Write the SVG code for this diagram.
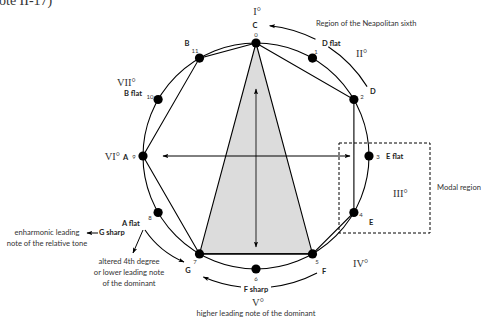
<svg xmlns="http://www.w3.org/2000/svg" width="481" height="320" viewBox="0 0 481 320">
<style>
.ln{fill:none;stroke:#000;stroke-width:1.1}
.nd{fill:#000}
.num{font-family:Lato,"Open Sans",sans-serif;font-size:6px;fill:#333;text-anchor:middle}
.let{font-family:Lato,"Open Sans",sans-serif;font-size:7.5px;font-weight:bold;fill:#222}
.txt{font-family:Lato,"Open Sans",sans-serif;font-size:7.6px;fill:#333}
.rom{font-family:"Liberation Serif",serif;font-size:10.5px;fill:#333}
</style>
<defs>
<marker id="ah" viewBox="0 0 10 10" refX="9" refY="5" markerWidth="6" markerHeight="6" orient="auto-start-reverse" markerUnits="userSpaceOnUse">
<path d="M0,1.5 L10,5 L0,8.5 L2,5 Z" fill="#000"/>
</marker>
</defs>
<text x="-8" y="5" style="font-family:'Liberation Serif',serif;font-size:14px;fill:#333">note II-17)</text>
<g id="connectors">
<polygon points="256,43 312.5,253.9 199.5,253.9" fill="#dcdcdc" stroke="#000" stroke-width="1.1"/>
<circle cx="256" cy="156" r="113" class="ln"/>
<polyline class="ln" points="256,43 353.9,99.5 353.9,212.5 312.5,253.9 199.5,253.9 143,156 199.5,58.1 256,43"/>
<line x1="256" y1="89" x2="256" y2="247" stroke="#444" stroke-width="1.2" marker-start="url(#ah)" marker-end="url(#ah)"/>
<line x1="163" y1="156" x2="350" y2="156" stroke="#000" stroke-width="1" marker-start="url(#ah)" marker-end="url(#ah)"/>
<rect x="339" y="143" width="91" height="90" fill="none" stroke="#000" stroke-width="1" stroke-dasharray="3,2"/>
<path class="ln" d="M315.5,39.3 A131,131 0 0 0 269.7,25.7" marker-end="url(#ah)"/>
<path class="ln" d="M328.3,46.8 A131,131 0 0 1 367.1,86.6"/>
<path class="ln" d="M317,273 A132,132 0 0 1 271,287"/>
<path class="ln" d="M241,287 A132,132 0 0 1 203.4,277" marker-end="url(#ah)"/>
<line x1="98" y1="233" x2="87" y2="233" stroke="#000" stroke-width="1" marker-end="url(#ah)"/>
<line x1="143" y1="230" x2="133" y2="253" stroke="#000" stroke-width="1" marker-end="url(#ah)"/>
<path class="ln" d="M145,230 Q160,252 184,262" marker-end="url(#ah)"/>
</g>
<g id="n0"><circle class="nd" cx="256" cy="43" r="4.6"/><text class="num" x="256" y="37">0</text><text class="let" x="255" y="28" text-anchor="middle">C</text><text class="rom" x="257" y="15" text-anchor="middle">I°</text></g>
<g id="n1"><circle class="nd" cx="312.5" cy="58.1" r="4.6"/><text class="num" x="316" y="54">1</text><text class="let" x="322" y="46">D flat</text><text class="rom" x="356" y="57">II°</text></g>
<g id="n2"><circle class="nd" cx="353.9" cy="99.5" r="4.6"/><text class="num" x="362" y="99">2</text><text class="let" x="370" y="94">D</text></g>
<g id="n3"><circle class="nd" cx="369" cy="156" r="4.6"/><text class="num" x="378" y="159">3</text><text class="let" x="386" y="159">E flat</text></g>
<g id="n4"><circle class="nd" cx="353.9" cy="212.5" r="4.6"/><text class="num" x="361" y="217">4</text><text class="let" x="369" y="225">E</text><text class="rom" x="393" y="197">III°</text></g>
<g id="n5"><circle class="nd" cx="312.5" cy="253.9" r="4.6"/><text class="num" x="317" y="264">5</text><text class="let" x="322" y="274">F</text><text class="rom" x="353" y="267">IV°</text></g>
<g id="n6"><circle class="nd" cx="256" cy="269" r="4.6"/><text class="num" x="256" y="281">6</text><text class="let" x="256" y="292" text-anchor="middle">F sharp</text><text class="rom" x="258" y="306" text-anchor="middle">V°</text><text class="txt" x="256" y="316" text-anchor="middle">higher leading note of the dominant</text></g>
<g id="n7"><circle class="nd" cx="199.5" cy="253.9" r="4.6"/><text class="num" x="195" y="264">7</text><text class="let" x="188" y="273" text-anchor="middle">G</text></g>
<g id="n8"><circle class="nd" cx="158.1" cy="212.5" r="4.6"/><text class="num" x="150" y="220">8</text><text class="let" x="122" y="226">A flat</text><text class="let" x="99" y="235">G sharp</text>
<text class="txt" x="47" y="235" text-anchor="middle">enharmonic leading</text><text class="txt" x="47" y="246" text-anchor="middle">note of the relative tone</text>
<text class="txt" x="129" y="264" text-anchor="middle">altered 4th degree</text><text class="txt" x="129" y="275" text-anchor="middle">or lower leading note</text><text class="txt" x="129" y="286" text-anchor="middle">of the dominant</text></g>
<g id="n9"><circle class="nd" cx="143" cy="156" r="4.6"/><text class="num" x="134" y="159">9</text><text class="let" x="123" y="160">A</text><text class="rom" x="120" y="160" text-anchor="end">VI°</text></g>
<g id="n10"><circle class="nd" cx="158.1" cy="99.5" r="4.6"/><text class="num" x="150" y="99">10</text><text class="let" x="142" y="96" text-anchor="end">B flat</text><text class="rom" x="117" y="86">VII°</text></g>
<g id="n11"><circle class="nd" cx="199.5" cy="58.1" r="4.6"/><text class="num" x="195" y="53">11</text><text class="let" x="187" y="46" text-anchor="middle">B</text></g>
<text class="txt" x="316" y="26">Region of the Neapolitan sixth</text>
<text class="txt" x="437" y="190">Modal region</text>
</svg>
